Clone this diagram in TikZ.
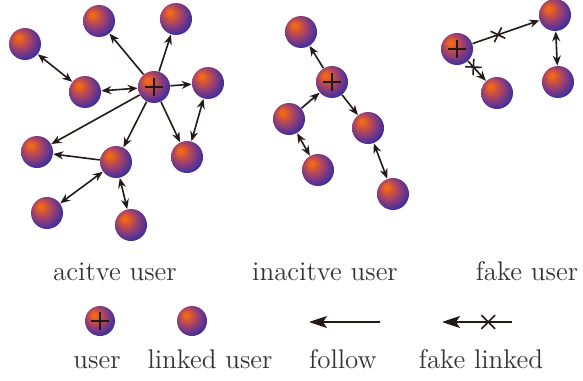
\documentclass[tikz,border=0pt]{standalone}
\usetikzlibrary{arrows.meta}
\usetikzlibrary{shapes.misc}
\usepackage{xcolor}

\definecolor{sphhi}{RGB}{240,105,20}
\definecolor{sphred}{RGB}{200,80,70}
\definecolor{sphmid}{RGB}{140,60,122}
\definecolor{sphlo}{RGB}{50,45,165}
\definecolor{lnk}{RGB}{35,25,22}
\pgfdeclareradialshading{sphere}{\pgfpoint{-11bp}{11bp}}{color(0bp)=(sphhi); color(3bp)=(sphhi); color(10bp)=(sphred); color(19bp)=(sphmid); color(31bp)=(sphlo); color(50bp)=(sphlo)}

\tikzset{
 usr/.style={circle, minimum size=16pt, inner sep=0pt, shading=sphere},
 hub/.style={usr, path picture={
   \draw[lnk, line width=.75pt] ([xshift=-4.5pt]path picture bounding box.center) -- ([xshift=4.5pt]path picture bounding box.center);
   \draw[lnk, line width=.75pt] ([yshift=-4.5pt]path picture bounding box.center) -- ([yshift=4.5pt]path picture bounding box.center);}},
 fol/.style={lnk, line width=.8pt, -{Stealth[length=5pt,width=4pt]}},
 bi/.style={lnk, line width=.8pt, {Stealth[length=5pt,width=4pt]}-{Stealth[length=5pt,width=4pt]}},
 xmark/.style={draw=lnk, cross out, minimum size=5pt, inner sep=0pt, line width=.8pt, sloped},
 lbl/.style={font=\fontsize{13.5}{15}\selectfont, anchor=base, text=black!80}
}

\begin{document}
\begin{tikzpicture}[x=.5pt, y=-.5pt]
\useasboundingbox (0,0) rectangle (583,380);

% acitve user
\node[hub] (a0) at (154,87) {};
\node[usr] (a1) at (99,21) {};
\node[usr] (a2) at (176,19) {};
\node[usr] (a3) at (25,44) {};
\node[usr] (a4) at (85,92) {};
\node[usr] (a5) at (208,83) {};
\node[usr] (a6) at (37,152) {};
\node[usr] (a7) at (116,162) {};
\node[usr] (a8) at (187,157) {};
\node[usr] (a9) at (47,213) {};
\node[usr] (a10) at (131,225) {};
\foreach \t in {a1,a2,a5,a6,a7,a8}
 \draw[fol] (a0) -- (\t);
\draw[bi] (a0) -- (a4);
\draw[bi] (a3) -- (a4);
\draw[bi] (a5) -- (a8);
\draw[fol] (a7) -- (a6);
\draw[bi] (a7) -- (a9);
\draw[bi] (a7) -- (a10);

% inacitve user
\node[hub] (i0) at (332,82) {};
\node[usr] (i1) at (301,32) {};
\node[usr] (i2) at (289,119) {};
\node[usr] (i3) at (368,128) {};
\node[usr] (i4) at (318,170) {};
\node[usr] (i5) at (393,194) {};
\draw[fol] (i0) -- (i1);
\draw[fol] (i2) -- (i0);
\draw[fol] (i0) -- (i3);
\draw[bi] (i2) -- (i4);
\draw[bi] (i3) -- (i5);

% fake user
\node[hub] (f0) at (457,49) {};
\node[usr] (f1) at (555,15) {};
\node[usr] (f2) at (558,82) {};
\node[usr] (f3) at (497,93) {};
\draw[fol] (f0) -- node[xmark, pos=.38] {} (f1);
\draw[fol] (f0) -- node[xmark, pos=.3] {} (f3);
\draw[bi] (f1) -- (f2);

\node[lbl] (ta) at (115,280) {acitve user};
\node[lbl] (ti) at (325,280) {inacitve user};
\node[lbl] (tf) at (527,280) {fake user};

% legend
\node[hub, minimum size=15pt] (lu) at (100,321) {};
\node[usr, minimum size=15pt] (ll) at (192,321) {};
\coordinate (p1) at (380,322);
\coordinate (p2) at (309,322);
\coordinate (q1) at (512,322);
\coordinate (q2) at (442,322);
\draw[lnk, line width=.85pt, -{Stealth[length=9pt,width=6pt,inset=2pt]}] (p1) -- (p2);
\draw[lnk, line width=.85pt, -{Stealth[length=9pt,width=6pt,inset=2pt]}] (q1) -- node[xmark, pos=.34, minimum size=6pt, line width=.85pt] {} (q2);

\node[lbl] (tu) at (97,368) {user};
\node[lbl] (tl) at (210,368) {linked user};
\node[lbl] (to) at (343,368) {follow};
\node[lbl] (tk) at (481,368) {fake linked};
\end{tikzpicture}
\end{document}
